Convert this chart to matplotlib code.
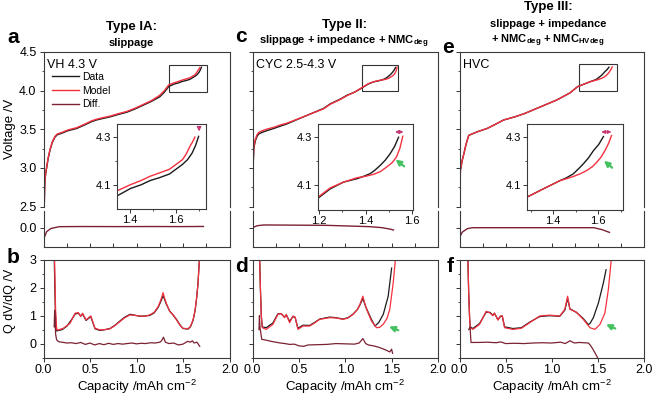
import matplotlib
matplotlib.use("Agg")
import matplotlib.pyplot as plt
from matplotlib.patches import Rectangle
from matplotlib.ticker import MultipleLocator, FixedLocator

plt.rcParams['font.family'] = ['Liberation Sans', 'DejaVu Sans']
plt.rcParams['mathtext.fontset'] = 'custom'
plt.rcParams['mathtext.rm'] = 'Liberation Sans'
plt.rcParams['mathtext.bf'] = 'Liberation Sans:bold'
plt.rcParams['axes.linewidth'] = 0.8
plt.rcParams['axes.edgecolor'] = '#3a3a3a'

DATA = '#1b1b1b'
MODEL = '#f4303f'
DIFF = '#7b2232'
GREEN = '#45c160'
PINK = '#c23a73'

# ---- voltage curves (capacity in mAh cm-2, voltage in V) ----
cap_a_data = [0.008, 0.012, 0.016, 0.024, 0.034, 0.05, 0.07, 0.095, 0.124, 0.15, 0.2, 0.26, 0.357, 0.45, 0.52,
              0.57, 0.64, 0.715, 0.8, 0.895, 0.98, 1.07, 1.16, 1.25, 1.3, 1.347, 1.403, 1.45, 1.487, 1.53,
              1.572, 1.628, 1.65, 1.67, 1.685, 1.698]
v_a_data = [2.5, 2.72, 2.84, 2.93, 3.0, 3.12, 3.23, 3.33, 3.40, 3.43, 3.45, 3.48, 3.51, 3.56, 3.60,
            3.62, 3.64, 3.66, 3.69, 3.72, 3.76, 3.81, 3.86, 3.92, 3.98, 4.054, 4.084, 4.10, 4.117, 4.13,
            4.145, 4.185, 4.205, 4.233, 4.265, 4.303]
cap_a_model = [0.008, 0.012, 0.016, 0.024, 0.034, 0.05, 0.07, 0.095, 0.124, 0.15, 0.2, 0.26, 0.357, 0.45, 0.52,
               0.57, 0.64, 0.715, 0.8, 0.895, 0.98, 1.07, 1.16, 1.25, 1.3, 1.347, 1.403, 1.45, 1.487, 1.53,
               1.572, 1.628, 1.645, 1.66, 1.672, 1.682]
v_a_model = [2.5, 2.73, 2.85, 2.94, 3.01, 3.13, 3.24, 3.34, 3.41, 3.44, 3.46, 3.49, 3.52, 3.57, 3.61,
             3.63, 3.65, 3.67, 3.70, 3.73, 3.77, 3.82, 3.87, 3.94, 4.00, 4.075, 4.10, 4.118, 4.135, 4.15,
             4.165, 4.205, 4.23, 4.26, 4.28, 4.30]

cap_c_data = [0.0, 0.004, 0.008, 0.014, 0.03, 0.05, 0.068, 0.104, 0.15, 0.229, 0.3, 0.373, 0.45, 0.588, 0.767,
              0.84, 0.946, 1.018, 1.1, 1.18, 1.2, 1.249, 1.306, 1.364, 1.39, 1.42, 1.44, 1.463, 1.485, 1.506,
              1.525, 1.542]
v_c_data = [2.5, 2.85, 3.05, 3.25, 3.35, 3.41, 3.44, 3.46, 3.48, 3.51, 3.54, 3.57, 3.61, 3.68, 3.77,
            3.83, 3.89, 3.94, 3.98, 4.035, 4.05, 4.086, 4.114, 4.128, 4.137, 4.149, 4.163, 4.183, 4.205, 4.232,
            4.262, 4.30]
cap_c_model = [0.0, 0.004, 0.008, 0.014, 0.03, 0.05, 0.068, 0.104, 0.15, 0.229, 0.3, 0.373, 0.45, 0.588, 0.767,
               0.84, 0.946, 1.018, 1.1, 1.197, 1.249, 1.306, 1.364, 1.40, 1.434, 1.465, 1.49, 1.515, 1.533,
               1.548, 1.56]
v_c_model = [2.5, 2.87, 3.07, 3.27, 3.37, 3.43, 3.46, 3.48, 3.50, 3.525, 3.555, 3.58, 3.615, 3.68, 3.765,
             3.825, 3.885, 3.935, 3.98, 4.052, 4.09, 4.114, 4.132, 4.138, 4.146, 4.158, 4.176, 4.195, 4.218,
             4.255, 4.304]

cap_e_data = [0.0, 0.003, 0.01, 0.03, 0.047, 0.07, 0.10, 0.138, 0.2, 0.30, 0.4, 0.48, 0.6, 0.70, 0.88, 1.06,
              1.2, 1.283, 1.357, 1.431, 1.46, 1.49, 1.512, 1.535, 1.558, 1.58, 1.603, 1.624]
v_e_data = [2.5, 2.62, 2.97, 3.1, 3.18, 3.3, 3.42, 3.44, 3.47, 3.51, 3.57, 3.62, 3.66, 3.70, 3.79, 3.88,
            3.97, 4.051, 4.086, 4.12, 4.132, 4.148, 4.168, 4.19, 4.215, 4.245, 4.27, 4.303]
cap_e_model = [0.0, 0.003, 0.01, 0.03, 0.047, 0.07, 0.10, 0.138, 0.2, 0.30, 0.4, 0.48, 0.6, 0.70, 0.88, 1.06,
               1.2, 1.283, 1.357, 1.431, 1.46, 1.49, 1.52, 1.55, 1.575, 1.594, 1.614, 1.631, 1.647, 1.66]
v_e_model = [2.5, 2.62, 2.97, 3.1, 3.18, 3.3, 3.42, 3.44, 3.47, 3.51, 3.57, 3.62, 3.66, 3.70, 3.79, 3.88,
             3.97, 4.051, 4.086, 4.12, 4.128, 4.137, 4.148, 4.162, 4.178, 4.196, 4.218, 4.245, 4.275, 4.307]

# ---- voltage difference (V) ----
cap_a_vdiff = [0.005, 0.01, 0.034, 0.08, 0.17, 0.4, 0.8, 1.2, 1.5, 1.72]
a_vdiff = [-0.25, -0.12, -0.05, -0.01, 0.013, 0.015, 0.014, 0.015, 0.014, 0.016]
cap_c_vdiff = [0.0, 0.05, 0.12, 0.4, 0.8, 1.27, 1.4, 1.49, 1.52]
c_vdiff = [0.0, 0.025, 0.035, 0.033, 0.03, 0.013, 0.0, -0.02, -0.03]
cap_e_vdiff = [0.0, 0.003, 0.03, 0.084, 0.14, 0.5, 1.0, 1.46, 1.55, 1.63]
e_vdiff = [-0.25, -0.12, -0.057, -0.013, 0.0, 0.0, 0.0, 0.0, -0.025, -0.06]

# ---- Q dV/dQ (V) ----
cap_b_model = [0.118, 0.125, 0.13, 0.138, 0.143, 0.16, 0.214, 0.286, 0.34, 0.375, 0.40, 0.42, 0.458, 0.508,
               0.554, 0.608, 0.66, 0.715, 0.77, 0.822, 0.87, 0.93, 1.036, 1.09, 1.143, 1.19, 1.233, 1.26,
               1.286, 1.30, 1.32, 1.358, 1.39, 1.43, 1.47, 1.50, 1.554, 1.58, 1.608, 1.63, 1.644, 1.66, 1.68]
b_model = [3.2, 2.0, 1.2, 0.7, 0.49, 0.49, 0.55, 0.73, 1.09, 1.11, 0.97, 1.09, 0.85, 0.99,
           0.55, 0.49, 0.50, 0.53, 0.65, 0.79, 0.92, 1.03, 0.99, 0.98, 1.03, 1.12, 1.33, 1.55,
           1.83, 1.65, 1.45, 1.15, 1.05, 0.85, 0.65, 0.55, 0.53, 0.62, 0.85, 1.2, 1.57, 2.1, 3.2]
cap_b_data = [0.115, 0.122, 0.128, 0.135, 0.143, 0.16, 0.2, 0.25, 0.3, 0.34, 0.375, 0.40, 0.42, 0.458, 0.508,
              0.554, 0.608, 0.66, 0.715, 0.77, 0.822, 0.87, 0.93, 0.98, 1.036, 1.09, 1.143, 1.19, 1.233,
              1.26, 1.286, 1.30, 1.32, 1.358, 1.39, 1.43, 1.47, 1.50, 1.554, 1.58, 1.608, 1.63, 1.644,
              1.66, 1.68]
b_data = [3.2, 2.0, 1.1, 0.6, 0.45, 0.47, 0.5, 0.62, 0.85, 1.06, 1.09, 0.99, 1.06, 0.83, 0.97,
          0.53, 0.47, 0.5, 0.54, 0.66, 0.81, 0.94, 1.05, 1.02, 0.98, 0.99, 1.01, 1.1, 1.3,
          1.5, 1.72, 1.6, 1.42, 1.16, 1.04, 0.87, 0.66, 0.54, 0.52, 0.6, 0.83, 1.18, 1.55, 2.1, 3.2]
cap_b_diff = [0.115, 0.12, 0.125, 0.13, 0.14, 0.15, 0.17, 0.2, 0.25, 0.3, 0.35, 0.4, 0.45, 0.5, 0.55, 0.6,
              0.65, 0.7, 0.75, 0.8, 0.85, 0.9, 0.95, 1.0, 1.05, 1.1, 1.15, 1.2, 1.25, 1.27, 1.29, 1.31,
              1.35, 1.4, 1.45, 1.5, 1.55, 1.58, 1.6, 1.62, 1.65, 1.68]
b_diff = [0.6, 1.2, 0.8, 0.35, 0.15, 0.1, 0.06, 0.05, 0.02, 0.03, 0.0, 0.04, -0.03, 0.02, -0.05, 0.0,
          -0.04, 0.01, -0.03, 0.0, -0.02, 0.0, 0.02, -0.01, 0.01, 0.0, 0.03, 0.02, 0.05, 0.1, 0.23, 0.05,
          0.0, 0.02, -0.05, -0.02, 0.08, 0.05, 0.1, 0.02, 0.05, -0.1]

cap_d_model = [0.076, 0.085, 0.095, 0.105, 0.148, 0.22, 0.274, 0.31, 0.346, 0.364, 0.4, 0.436, 0.46, 0.49,
               0.544, 0.616, 0.67, 0.724, 0.832, 0.9, 0.976, 1.03, 1.085, 1.13, 1.157, 1.19, 1.21, 1.23,
               1.283, 1.337, 1.37, 1.409, 1.45, 1.48, 1.517, 1.546]
d_model = [3.2, 2.0, 1.0, 0.57, 0.51, 0.69, 1.05, 1.08, 0.93, 1.05, 0.75, 0.99, 0.95, 0.51,
           0.63, 0.63, 0.74, 0.87, 0.93, 0.92, 0.87, 0.92, 1.05, 1.22, 1.4, 1.7, 1.45, 1.23,
           0.81, 0.57, 0.58, 0.69, 0.9, 1.23, 2.18, 3.2]
cap_d_data = [0.076, 0.085, 0.095, 0.105, 0.148, 0.22, 0.274, 0.31, 0.346, 0.364, 0.4, 0.436, 0.46, 0.49,
              0.544, 0.616, 0.67, 0.724, 0.832, 0.9, 0.976, 1.03, 1.085, 1.13, 1.157, 1.19, 1.21, 1.23,
              1.283, 1.32, 1.36, 1.41, 1.463, 1.5]
d_data = [3.2, 2.0, 1.0, 0.6, 0.57, 0.74, 1.07, 1.07, 0.95, 1.03, 0.8, 0.97, 0.93, 0.55,
          0.66, 0.65, 0.76, 0.88, 0.95, 0.93, 0.88, 0.93, 1.06, 1.22, 1.38, 1.62, 1.42, 1.25,
          0.86, 0.63, 0.75, 1.05, 1.7, 2.71]
cap_d_diff = [0.07, 0.075, 0.08, 0.1, 0.12, 0.15, 0.2, 0.25, 0.3, 0.35, 0.4, 0.45, 0.5, 0.55, 0.6, 0.7,
              0.8, 0.9, 1.0, 1.1, 1.15, 1.19, 1.22, 1.25, 1.3, 1.35, 1.4, 1.45, 1.48, 1.5, 1.51]
d_diff = [0.5, 1.0, 0.6, 0.15, 0.14, 0.12, 0.08, 0.05, 0.02, 0.0, -0.03, -0.02, -0.08, -0.1, -0.05, -0.04,
          -0.03, 0.0, -0.01, -0.02, 0.02, 0.18, 0.0, -0.05, -0.08, -0.12, -0.18, -0.25, -0.3, -0.2, -0.35]

cap_f_model = [0.09, 0.1, 0.11, 0.117, 0.145, 0.218, 0.29, 0.33, 0.363, 0.38, 0.418, 0.444, 0.465, 0.49,
               0.58, 0.673, 0.763, 0.872, 0.98, 1.09, 1.145, 1.175, 1.2, 1.27, 1.345, 1.418, 1.472, 1.527,
               1.58, 1.618, 1.655]
f_model = [3.2, 1.8, 0.9, 0.57, 0.51, 0.69, 1.16, 1.1, 1.0, 1.1, 0.84, 0.99, 1.0, 0.57,
           0.51, 0.55, 0.75, 0.99, 1.02, 0.99, 1.23, 1.7, 1.23, 1.13, 0.87, 0.57, 0.51, 0.69,
           1.09, 1.94, 3.2]
cap_f_data = [0.09, 0.1, 0.11, 0.117, 0.145, 0.218, 0.29, 0.33, 0.363, 0.38, 0.418, 0.444, 0.465, 0.49,
              0.58, 0.673, 0.763, 0.872, 0.98, 1.09, 1.145, 1.175, 1.2, 1.27, 1.345, 1.4, 1.418, 1.455,
              1.51, 1.564, 1.593]
f_data = [3.2, 1.8, 0.9, 0.6, 0.54, 0.72, 1.13, 1.12, 1.02, 1.08, 0.86, 0.97, 0.98, 0.6,
          0.54, 0.57, 0.77, 0.97, 1.0, 0.98, 1.2, 1.62, 1.25, 1.12, 0.9, 0.68, 0.72, 0.93,
          1.46, 2.18, 2.65]
cap_f_diff = [0.1, 0.115, 0.12, 0.125, 0.15, 0.2, 0.3, 0.4, 0.45, 0.5, 0.6, 0.7, 0.8, 0.9, 1.0, 1.1, 1.15,
              1.2, 1.25, 1.3, 1.35, 1.4, 1.42, 1.45, 1.48, 1.5]
f_diff = [0.5, 0.6, 0.3, 0.04, 0.04, 0.04, 0.05, 0.03, 0.06, 0.0, 0.01, 0.0, 0.02, 0.03, 0.02, 0.05, 0.0,
          0.1, 0.02, 0.04, 0.03, 0.02, -0.05, -0.2, -0.38, -0.5]

W, H = 656, 398
fig = plt.figure(figsize=(W / 100, H / 100), dpi=100)


def box(x0, y0, x1, y1):
    return [x0 / W, 1 - y1 / H, (x1 - x0) / W, (y1 - y0) / H]


panels = [
    dict(x=(43.5, 229.5), inset=(117, 124, 206, 209), ixlim=(1.345, 1.73), zoom=(1.35, 1.76, 3.98, 4.33),
         vd=(cap_a_data, v_a_data), vm=(cap_a_model, v_a_model), vdiff=(cap_a_vdiff, a_vdiff),
         qd=(cap_b_data, b_data), qm=(cap_b_model, b_model), qdiff=(cap_b_diff, b_diff),
         tag='VH 4.3 V'),
    dict(x=(252.5, 438), inset=(318, 124, 413, 210), ixlim=(1.196, 1.604), zoom=(1.18, 1.57, 3.99, 4.33),
         vd=(cap_c_data, v_c_data), vm=(cap_c_model, v_c_model), vdiff=(cap_c_vdiff, c_vdiff),
         qd=(cap_d_data, d_data), qm=(cap_d_model, d_model), qdiff=(cap_d_diff, d_diff),
         tag='CYC 2.5-4.3 V'),
    dict(x=(459.5, 643.5), inset=(527, 124, 623, 210), ixlim=(1.284, 1.711), zoom=(1.30, 1.71, 3.99, 4.34),
         vd=(cap_e_data, v_e_data), vm=(cap_e_model, v_e_model), vdiff=(cap_e_vdiff, e_vdiff),
         qd=(cap_f_data, f_data), qm=(cap_f_model, f_model), qdiff=(cap_f_diff, f_diff),
         tag='HVC'),
]

axes_v, axes_q, axes_i = [], [], []
for k, p in enumerate(panels):
    x0, x1 = p['x']
    axv = fig.add_axes(box(x0, 52, x1, 206.5))
    axd = fig.add_axes(box(x0, 210.5, x1, 247))
    axq = fig.add_axes(box(x0, 260, x1, 357.5))
    axi = fig.add_axes(box(*p['inset']))

    l_data, = axv.plot(*p['vd'], color=DATA, lw=1.0, label='Data')
    l_model, = axv.plot(*p['vm'], color=MODEL, lw=1.0, label='Model')
    l_diff, = axd.plot(*p['vdiff'], color=DIFF, lw=1.0, label='Diff.')
    axv.set_xlim(0, 2.0)
    axv.set_ylim(2.5, 4.5)
    axv.spines['bottom'].set_visible(False)
    axv.tick_params(bottom=False, labelbottom=False)
    axv.yaxis.set_major_locator(MultipleLocator(0.5))
    axv.yaxis.set_minor_locator(MultipleLocator(0.25))
    zx0, zx1, zy0, zy1 = p['zoom']
    axv.add_patch(Rectangle((zx0, zy0), zx1 - zx0, zy1 - zy0, fill=False, lw=0.8, ec='#333333'))
    axv.text(0.02, 0.955, p['tag'], transform=axv.transAxes, fontsize=9, va='top', ha='left')

    axd.set_xlim(0, 2.0)
    axd.set_ylim(-0.247, 0.22)
    axd.spines['top'].set_visible(False)
    axd.yaxis.set_major_locator(FixedLocator([0.0]))
    axd.yaxis.set_major_formatter(lambda v, pos: '0.0')
    axd.xaxis.set_major_locator(MultipleLocator(0.25))
    axd.tick_params(axis='x', direction='in', length=3, labelbottom=False)

    axq.plot(*p['qd'], color=DATA, lw=0.9)
    axq.plot(*p['qm'], color=MODEL, lw=0.9)
    axq.plot(*p['qdiff'], color=DIFF, lw=0.9)
    axq.set_xlim(0, 2.0)
    axq.set_ylim(-0.5, 3)
    axq.xaxis.set_major_locator(MultipleLocator(0.5))
    axq.xaxis.set_major_formatter(lambda v, pos: f'{v:.1f}')
    axq.yaxis.set_major_locator(MultipleLocator(1))
    axq.yaxis.set_minor_locator(MultipleLocator(0.5))
    axq.set_xlabel('Capacity /mAh cm$^{-2}$', fontsize=9.5, labelpad=1)

    axi.plot(*p['vd'], color=DATA, lw=1.0)
    axi.plot(*p['vm'], color=MODEL, lw=1.0)
    axi.set_xlim(*p['ixlim'])
    axi.set_ylim(3.998, 4.355)
    axi.xaxis.set_major_locator(MultipleLocator(0.2))
    axi.xaxis.set_minor_locator(MultipleLocator(0.1))
    axi.xaxis.set_major_formatter(lambda v, pos: f'{v:.1f}')
    axi.yaxis.set_major_locator(FixedLocator([4.1, 4.3]))
    axi.yaxis.set_minor_locator(FixedLocator([4.2]))

    for ax in (axv, axd, axq, axi):
        ax.tick_params(which='major', length=3, width=0.7, colors='#333333', labelcolor='black')
        ax.tick_params(which='minor', length=1.5, width=0.6, colors='#333333')
    for ax in (axv, axd, axq):
        ax.tick_params(labelsize=9, pad=2)
    axi.tick_params(labelsize=8, pad=1.5)
    axd.tick_params(axis='x', direction='in', length=3)

    if k > 0:
        for ax in (axv, axd, axq):
            ax.tick_params(labelleft=False)

    if k == 0:
        axv.set_ylabel('Voltage /V', fontsize=9.5)
        axv.yaxis.set_label_coords(-0.15, 0.5)
        axq.set_ylabel('Q dV/dQ /V', fontsize=9)
        axq.yaxis.set_label_coords(-0.15, 0.58)
        axv.legend(handles=[l_data, l_model, l_diff], loc='upper left', bbox_to_anchor=(0.045, 0.87),
                   frameon=False, fontsize=7.5, borderpad=0, borderaxespad=0, handlelength=2.6,
                   handletextpad=0.3, labelspacing=0.35)

    axes_v.append(axv)
    axes_q.append(axq)
    axes_i.append(axi)

# arrows in insets and dV/dQ panels
axes_i[0].annotate('', xy=(1.70, 4.312), xytext=(1.70, 4.352),
                   arrowprops=dict(arrowstyle='-|>', color=PINK, lw=1.0, mutation_scale=6))
axes_i[1].annotate('', xy=(1.575, 4.322), xytext=(1.515, 4.322),
                   arrowprops=dict(arrowstyle='<|-|>', color=PINK, lw=0.9, mutation_scale=5))
axes_i[2].annotate('', xy=(1.672, 4.322), xytext=(1.602, 4.322),
                   arrowprops=dict(arrowstyle='<|-|>', color=PINK, lw=0.9, mutation_scale=5))
axes_i[1].annotate('', xy=(1.52, 4.215), xytext=(1.575, 4.172),
                   arrowprops=dict(arrowstyle='-|>', color=GREEN, lw=1.6, mutation_scale=8))
axes_i[2].annotate('', xy=(1.617, 4.21), xytext=(1.672, 4.166),
                   arrowprops=dict(arrowstyle='-|>', color=GREEN, lw=1.6, mutation_scale=8))
axes_q[1].annotate('', xy=(1.445, 0.65), xytext=(1.60, 0.44),
                   arrowprops=dict(arrowstyle='-|>', color=GREEN, lw=1.6, mutation_scale=8))
axes_q[2].annotate('', xy=(1.565, 0.73), xytext=(1.72, 0.50),
                   arrowprops=dict(arrowstyle='-|>', color=GREEN, lw=1.6, mutation_scale=8))

# panel letters
for letter, (px, py) in zip('abcdef', [(13, 42.7), (13, 263), (241, 41.7), (241, 271.5), (448, 53), (450, 271.5)]):
    fig.text(px / W, 1 - py / H, letter, fontsize=15, fontweight='bold', ha='center', va='baseline')

# column titles
titles = [
    (131, [(30, 'Type IA:', 9.5), (46, 'slippage', 8)]),
    (344, [(28.3, 'Type II:', 9.5), (44.3, r'slippage + impedance + NMC$_{\mathbf{deg}}$', 8)]),
    (548, [(10, 'Type III:', 9.5), (26.7, 'slippage + impedance', 8),
           (43.3, r'+ NMC$_{\mathbf{deg}}$ + NMC$_{\mathbf{HVdeg}}$', 8)]),
]
for cx, lines in titles:
    for py, txt, fs in lines:
        fig.text(cx / W, 1 - py / H, txt, fontsize=fs, fontweight='bold', ha='center', va='baseline')

fig.savefig('out.png', dpi=100)
